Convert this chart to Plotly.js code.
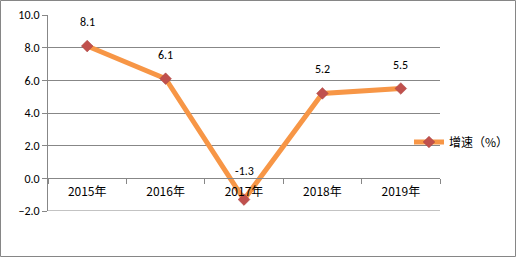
<!DOCTYPE html>
<html><head><meta charset="utf-8">
<script src="https://cdn.plot.ly/plotly-3.0.1.min.js"></script>
<style>html,body{margin:0;padding:0;background:#fff}#c{width:516px;height:257px}</style>
</head><body><div id="c"></div>
<script>
const categories = ['2015年','2016年','2017年','2018年','2019年'];
const growth = [8.1, 6.1, -1.3, 5.2, 5.5];
const seriesName = '增速（%）';
const yTicks = [-2, 0, 2, 4, 6, 8, 10];

const L = 48, R = 440, T = 15, B = 211, W = 516, H = 257;
const pw = R - L, ph = B - T;
const font = "Calibri, Carlito, 'Noto Sans CJK SC', sans-serif";
const cjk = "'Noto Sans CJK SC', sans-serif";
const grid = '#878787';

const trace = {
  x: categories, y: growth, name: seriesName, type: 'scatter', mode: 'lines+markers',
  line: {color: '#f79646', width: 5},
  marker: {symbol: 'diamond', size: 9, color: '#c0504d', line: {color: '#a8423f', width: 0.5}},
  cliponaxis: false
};

const annotations = categories.map((c, i) => ({
  x: c, y: growth[i], text: growth[i].toFixed(1), showarrow: false,
  yanchor: 'middle', yshift: growth[i] < 0 ? 29 : 24, font: {family: font, size: 12, color: '#000'}
}));

const layout = {
  width: W, height: H,
  margin: {l: L, r: W - R, t: T, b: H - B, pad: 0, autoexpand: false},
  paper_bgcolor: '#fff', plot_bgcolor: '#fff',
  showlegend: true,
  legend: {x: (409 - L) / pw, xanchor: 'left', y: (B - 142) / ph, yanchor: 'middle',
    font: {family: cjk, size: 12, color: '#000'},
    bgcolor: 'rgba(0,0,0,0)', itemwidth: 30, tracegroupgap: 0},
  xaxis: {type: 'category', range: [-0.5, 4.5], anchor: 'free', position: 2 / 12,
    showline: true, linecolor: grid, linewidth: 1, showgrid: false, zeroline: false,
    ticks: 'outside', tickson: 'boundaries', ticklen: 5, tickcolor: grid, automargin: false,
    tickfont: {family: cjk, size: 12, color: '#000'}, ticklabelstandoff: 2},
  yaxis: {range: [-2, 10], tickvals: yTicks, tickformat: '.1f', showgrid: true, gridcolor: grid,
    gridwidth: 1, zeroline: false, showline: true, linecolor: grid, linewidth: 1, mirror: false,
    ticks: 'outside', ticklen: 5, tickcolor: grid, automargin: false,
    tickfont: {family: font, size: 12, color: '#000'}},
  annotations: annotations,
  shapes: [
    {type: 'line', xref: 'paper', yref: 'y', x0: 0, x1: 1, y0: -2, y1: -2,
      line: {color: grid, width: 1}, layer: 'below'},
    {type: 'rect', xref: 'paper', yref: 'paper',
    x0: (0.5 - L) / pw, x1: (515.5 - L) / pw, y0: (B - 256.5) / ph, y1: (B - 0.5) / ph,
    line: {color: '#868686', width: 1}, fillcolor: 'rgba(0,0,0,0)', layer: 'below'}]
};

Plotly.newPlot('c', [trace], layout, {displayModeBar: false, staticPlot: true});
</script></body></html>
